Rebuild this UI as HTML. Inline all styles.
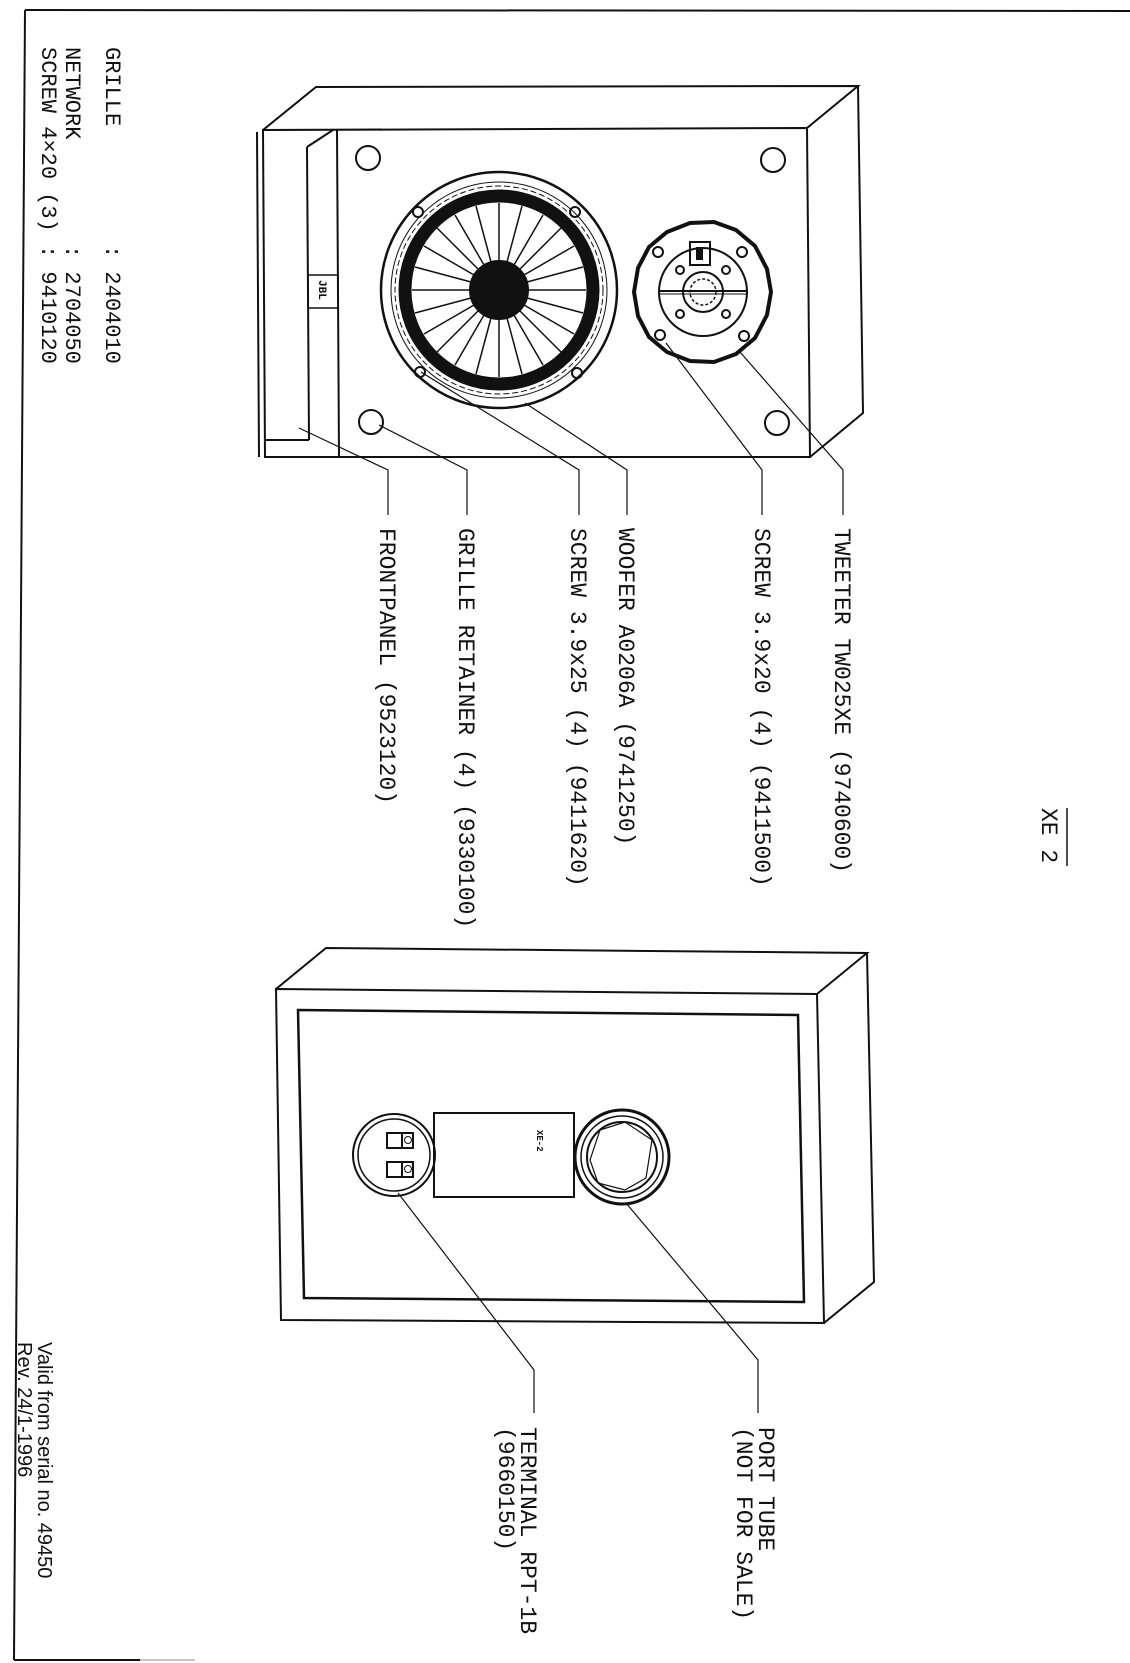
<!DOCTYPE html>
<html><head><meta charset="utf-8"><style>
html,body{margin:0;padding:0;background:#fff;}
svg{display:block;}
text{font-family:"Liberation Mono",monospace;fill:#111;white-space:pre;}
.s{font-family:"Liberation Sans",sans-serif;}
</style></head><body>
<svg width="1130" height="1663" viewBox="0 0 1130 1663" xmlns="http://www.w3.org/2000/svg">
<g fill="none" stroke="#111" stroke-width="2">
<line x1="25" y1="10" x2="1130" y2="11"/>
<line x1="25" y1="10" x2="14" y2="1660"/>
<line x1="14" y1="1660" x2="140" y2="1660"/>
<line x1="140" y1="1660" x2="195" y2="1660" stroke-width="1" stroke="#888"/>

<polygon points="263,130 807,128 810,457 265,457"/>
<polyline points="263,130 316,87 858,86 807,128"/>
<polyline points="858,86 863,413 810,457"/>
<line x1="257" y1="132" x2="259" y2="457"/>
<line x1="337" y1="130" x2="339" y2="457"/>
<polyline points="307,147 333,130"/>
<line x1="307" y1="147" x2="309" y2="440"/>
<line x1="265" y1="440" x2="309" y2="440"/>
<rect x="308" y="275" width="30" height="33" stroke-width="1.5"/>
<circle cx="368" cy="158" r="12"/>
<circle cx="773" cy="160" r="12"/>
<circle cx="371" cy="422" r="12"/>
<circle cx="777" cy="423" r="12"/>

<circle cx="499" cy="290" r="118" stroke-width="2.5"/>
<circle cx="499" cy="290" r="108" stroke-width="1"/>
<circle cx="499" cy="290" r="104" stroke-width="1" stroke-dasharray="6 3"/>
<circle cx="499" cy="290" r="94" stroke-width="13"/>
<circle cx="499" cy="290" r="29" fill="#111"/>
<circle cx="418" cy="212" r="5"/><circle cx="575" cy="212" r="5"/>
<circle cx="420" cy="372" r="5"/><circle cx="577" cy="373" r="5"/>

<polygon points="771,292 767,315 755,338 736,354 714,362 690,361 667,352 649,337 638,316 634,292 638,268 649,247 667,232 690,223 714,222 736,230 755,246 767,269" stroke-width="4"/>
<circle cx="703" cy="292" r="44" stroke-width="2"/>
<circle cx="703" cy="292" r="20" stroke-width="2"/>
<circle cx="703" cy="292" r="13" stroke-width="1.5" stroke-dasharray="3 2"/>
<line x1="659" y1="291" x2="748" y2="291" stroke-width="2"/>
<line x1="659" y1="294" x2="748" y2="294" stroke-width="1"/>
<rect x="690" y="242" width="20" height="23" stroke-width="2"/>
<rect x="696" y="247" width="7" height="13" fill="#111" stroke="none"/>
<circle cx="680" cy="270" r="4"/><circle cx="726" cy="270" r="4"/>
<circle cx="680" cy="314" r="4"/><circle cx="726" cy="314" r="4"/>
<circle cx="658" cy="252" r="5"/><circle cx="742" cy="252" r="5"/>
<circle cx="660" cy="335" r="5"/><circle cx="744" cy="336" r="5"/>

<g stroke-width="1.2">
<polyline points="388,515 388,470 299,428"/>
<polyline points="467,515 467,470 379,425"/>
<polyline points="579,515 579,470 421,372"/>
<polyline points="627,515 627,470 525,403"/>
<polyline points="762,515 762,470 666,343"/>
<polyline points="843,515 843,470 740,352"/>
</g>

<polygon points="276,989 817,994 824,1323 281,1320"/>
<polyline points="276,989 326,948 867,953 817,994"/>
<polyline points="867,953 874,1282 824,1323"/>
<polygon points="298,1010 798,1015 804,1302 304,1298" stroke-width="2.5"/>
<circle cx="394" cy="1155" r="41"/>
<circle cx="394" cy="1155" r="36" stroke-width="1.5"/>
<rect x="387" y="1133" width="26" height="15"/><line x1="402" y1="1133" x2="402" y2="1148"/>
<circle cx="408" cy="1140" r="3.5" stroke-width="1"/>
<rect x="387" y="1162" width="26" height="15"/><line x1="402" y1="1162" x2="402" y2="1177"/>
<circle cx="408" cy="1169" r="3.5" stroke-width="1"/>
<rect x="434" y="1113" width="140" height="84"/>
<circle cx="622" cy="1157" r="47" stroke-width="3"/>
<circle cx="622" cy="1157" r="41" stroke-width="1.5"/>
<circle cx="622" cy="1157" r="35" stroke-width="2"/>
<polygon points="652,1140 646,1178 625,1190 598,1183 590,1160 600,1130 625,1122" stroke-width="1.2"/>
<g stroke-width="1.2">
<polyline points="534,1413 534,1370 398,1193"/>
<polyline points="758,1413 758,1360 626,1203"/>
</g>
</g>

<g stroke="#111" stroke-width="1.5">
<line x1="528" y1="290" x2="586" y2="290"/><line x1="527" y1="298" x2="583" y2="313"/>
<line x1="524" y1="305" x2="574" y2="334"/><line x1="520" y1="311" x2="561" y2="352"/>
<line x1="514" y1="315" x2="543" y2="365"/><line x1="507" y1="318" x2="522" y2="374"/>
<line x1="499" y1="319" x2="499" y2="377"/><line x1="491" y1="318" x2="476" y2="374"/>
<line x1="484" y1="315" x2="455" y2="365"/><line x1="478" y1="311" x2="437" y2="352"/>
<line x1="474" y1="305" x2="424" y2="334"/><line x1="471" y1="298" x2="415" y2="313"/>
<line x1="470" y1="290" x2="412" y2="290"/><line x1="471" y1="282" x2="415" y2="267"/>
<line x1="474" y1="275" x2="424" y2="246"/><line x1="478" y1="269" x2="437" y2="228"/>
<line x1="484" y1="265" x2="455" y2="215"/><line x1="491" y1="262" x2="476" y2="206"/>
<line x1="499" y1="261" x2="499" y2="203"/><line x1="507" y1="262" x2="522" y2="206"/>
<line x1="514" y1="265" x2="543" y2="215"/><line x1="520" y1="269" x2="561" y2="228"/>
<line x1="524" y1="275" x2="574" y2="246"/><line x1="527" y1="282" x2="583" y2="267"/>
</g>

<g font-size="23">
<text transform="translate(1042,808) rotate(90)">XE 2</text>
<text transform="translate(835,528) rotate(90)">TWEETER TW025XE (9740600)</text>
<text transform="translate(755,528) rotate(90)">SCREW 3.9x20 (4) (9411500)</text>
<text transform="translate(619,528) rotate(90)">WOOFER A0206A (9741250)</text>
<text transform="translate(571,528) rotate(90)">SCREW 3.9x25 (4) (9411620)</text>
<text transform="translate(459,528) rotate(90)">GRILLE RETAINER (4) (9330100)</text>
<text transform="translate(380,528) rotate(90)">FRONTPANEL (9523120)</text>
<text transform="translate(759,1427) rotate(90)">PORT TUBE</text>
<text transform="translate(737,1427) rotate(90)">(NOT FOR SALE)</text>
<text transform="translate(521,1427) rotate(90)">TERMINAL RPT-1B</text>
<text transform="translate(499,1427) rotate(90)">(9660150)</text>
</g>
<line x1="1067" y1="808" x2="1067" y2="866" stroke="#111" stroke-width="1.5"/>
<g font-size="22">
<text transform="translate(106,47) rotate(90)">GRILLE         : 2404010</text>
<text transform="translate(66,47) rotate(90)">NETWORK        : 2704050</text>
<text transform="translate(42,47) rotate(90)">SCREW 4×20 (3) : 9410120</text>
</g>
<text class="s" font-size="20" transform="translate(38,1342) rotate(90)">Valid from serial no. 49450</text>
<text class="s" font-size="20" transform="translate(18,1342) rotate(90)">Rev. 24/1-1996</text>
<text font-size="11" font-weight="bold" transform="translate(319,280) rotate(90)">JBL</text>
<text font-size="9" font-weight="bold" transform="translate(537,1130) rotate(90)">XE-2</text>
</svg>
</body></html>
